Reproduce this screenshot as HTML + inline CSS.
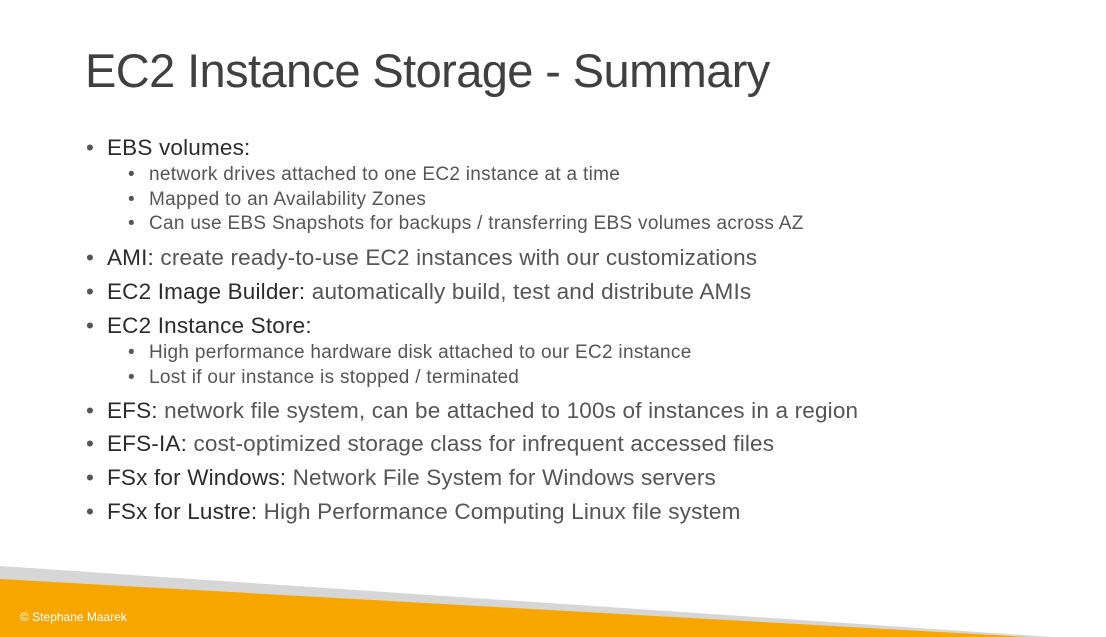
<!DOCTYPE html>
<html><head><meta charset="utf-8"><style>
html,body{margin:0;padding:0;}
body{width:1106px;height:637px;position:relative;overflow:hidden;background:#fff;font-family:"Liberation Sans",sans-serif;}
.t{position:absolute;left:85px;top:43px;font-size:47px;color:#404040;letter-spacing:-0.6px;white-space:nowrap;}
.l{position:absolute;white-space:nowrap;line-height:1;}
.l1{left:86px;font-size:22.5px;letter-spacing:0.18px;color:#555;}
.l1 b{font-weight:normal;color:#2b2b2b;}
.l2{left:128px;font-size:19px;letter-spacing:0.3px;color:#555;}
.bu{display:inline-block;width:21px;letter-spacing:0;}
.f{position:absolute;left:20px;top:610px;font-size:12px;color:#fff;}
</style></head><body>
<div class="t">EC2 Instance Storage - Summary</div>
<div class="l l1" style="top:137px"><span class="bu">•</span><b>EBS volumes:</b></div>
<div class="l l2" style="top:165px"><span class="bu">•</span>network drives attached to one EC2 instance at a time</div>
<div class="l l2" style="top:190px"><span class="bu">•</span>Mapped to an Availability Zones</div>
<div class="l l2" style="top:214px"><span class="bu">•</span>Can use EBS Snapshots for backups / transferring EBS volumes across AZ</div>
<div class="l l1" style="top:247px"><span class="bu">•</span><b>AMI:</b> create ready-to-use EC2 instances with our customizations</div>
<div class="l l1" style="top:281px"><span class="bu">•</span><b>EC2 Image Builder:</b> automatically build, test and distribute AMIs</div>
<div class="l l1" style="top:315px"><span class="bu">•</span><b>EC2 Instance Store:</b></div>
<div class="l l2" style="top:343px"><span class="bu">•</span>High performance hardware disk attached to our EC2 instance</div>
<div class="l l2" style="top:368px"><span class="bu">•</span>Lost if our instance is stopped / terminated</div>
<div class="l l1" style="top:400px"><span class="bu">•</span><b>EFS:</b> network file system, can be attached to 100s of instances in a region</div>
<div class="l l1" style="top:433px"><span class="bu">•</span><b>EFS-IA:</b> cost-optimized storage class for infrequent accessed files</div>
<div class="l l1" style="top:467px"><span class="bu">•</span><b>FSx for Windows:</b> Network File System for Windows servers</div>
<div class="l l1" style="top:501px"><span class="bu">•</span><b>FSx for Lustre:</b> High Performance Computing Linux file system</div>
<svg width="1106" height="637" style="position:absolute;left:0;top:0">
<polygon points="0,566 1053,637 0,637" fill="#d6d6d6"/>
<polygon points="0,579 1028,637 0,637" fill="#f7a600"/>
</svg>
<div class="f">© Stephane Maarek</div>
</body></html>
